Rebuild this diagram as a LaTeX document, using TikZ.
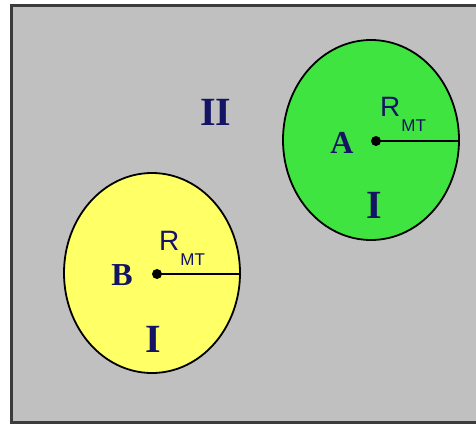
\documentclass[tikz,border=0pt]{standalone}
\usepackage{fontspec}
\setmainfont{Liberation Serif}
\setsansfont{Liberation Sans}
\usetikzlibrary{shapes.geometric}
\definecolor{panelgray}{RGB}{192,192,192}
\definecolor{framegray}{RGB}{60,60,60}
\definecolor{cellgreen}{RGB}{64,228,64}
\definecolor{cellyellow}{RGB}{255,255,102}
\definecolor{labelblue}{RGB}{20,20,100}
\newcommand{\rmt}{R\hspace{1pt}\raisebox{-15pt}{\fontsize{17}{17}\selectfont MT}}

\begin{document}
\begin{tikzpicture}[x=1pt, y=-1pt,
    cell/.style={draw, ellipse, line width=1.8pt, minimum width=176pt, minimum height=200pt, inner sep=0pt},
    region/.style={text=labelblue, font=\fontsize{40}{40}\selectfont\bfseries, inner sep=0pt, anchor=base},
    site/.style={text=labelblue, font=\fontsize{32}{32}\selectfont\bfseries, inner sep=0pt, anchor=base},
    radlabel/.style={text=labelblue, font=\sffamily\fontsize{28}{28}\selectfont, inner sep=0pt, anchor=base west},
    dot/.style={circle, fill=black, minimum size=10pt, inner sep=0pt},
    radline/.style={line width=2pt}
]
\useasboundingbox (0,0) rectangle (476,425);
\clip (0,0) rectangle (476,425);
% panel
\draw[fill=panelgray, draw=framegray, line width=2.8pt] (11.5,5.5) rectangle (490,422.5);
\node[region] (outer) at (216,125) {II};

% cell A (green)
\node[cell, fill=cellgreen] (cellA) at (371,140) {};
\node[dot] (dotA) at (376,141) {};
\draw[radline] (dotA.center) -- (dotA.center -| cellA.east);
\node[site] (labA) at (342,153) {A};
\node[radlabel] (radA) at (380,117) {\rmt};
\node[region] (innerA) at (374,218) {I};

% cell B (yellow)
\node[cell, fill=cellyellow] (cellB) at (152,273) {};
\node[dot] (dotB) at (157,274) {};
\draw[radline] (dotB.center) -- (dotB.center -| cellB.east);
\node[site] (labB) at (122,285) {B};
\node[radlabel] (radB) at (159,250) {\rmt};
\node[region] (innerB) at (153,352) {I};
\end{tikzpicture}
\end{document}
